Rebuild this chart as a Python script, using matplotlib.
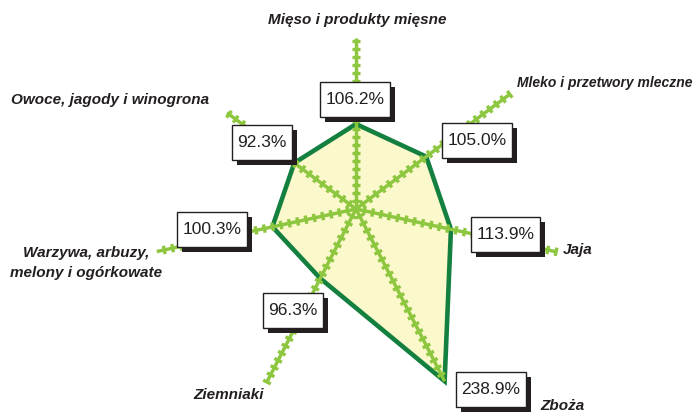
import numpy as np
import matplotlib
matplotlib.use('Agg')
from matplotlib import pyplot as plt
from matplotlib.patches import Polygon, Rectangle
from matplotlib.collections import LineCollection

# data (clockwise from the top)
categories = ['Mięso i produkty mięsne', 'Mleko i przetwory mleczne', 'Jaja', 'Zboża',
              'Ziemniaki', 'Warzywa, arbuzy,\nmelony i ogórkowate', 'Owoce, jagody i winogrona']
values = [106.2, 105.0, 113.9, 238.9, 96.3, 100.3, 92.3]
value_labels = ['106.2%', '105.0%', '113.9%', '238.9%', '96.3%', '100.3%', '92.3%']

# layout (pixels)
W, H = 695, 412
cx, cy = 356, 209
sx, sy = 0.855, 0.80          # px per unit along x / y
spoke_len = [214, 231, 240, 239, 240, 239, 193]
box_offset = [(-1, -25), (51, -16), (55, 5), (46, 8), (-27, 32), (-60, 3), (-32, -20)]
cat_pos = [(357, 20, 'center', 11), (605, 83, 'center', 10), (563, 250, 'left', 11),
           (540, 406, 'left', 11), (229, 395, 'center', 11), (86, 263, 'center', 11),
           (110, 100, 'center', 11)]

fill_col = '#FBF8CB'
line_col = '#14803F'
spoke_col = '#8DC63F'
text_col = '#231F20'

n = len(values)
theta = np.arange(n) * 2 * np.pi / n


def to_px(v, th):
    return cx + sx * v * np.sin(th), cy - sy * v * np.cos(th)


fig = plt.figure(figsize=(W / 100, H / 100), dpi=100)
ax = fig.add_axes([0, 0, 1, 1])
ax.set_xlim(0, W)
ax.set_ylim(H, 0)
ax.axis('off')

pts = [to_px(v, t) for v, t in zip(values, theta)]
ax.add_patch(Polygon(pts, closed=True, facecolor=fill_col, edgecolor='none', zorder=1))
ax.add_patch(Polygon(pts, closed=True, fill=False, edgecolor=line_col, linewidth=3.3,
                     joinstyle='miter', zorder=2))

# spokes with cross ticks every 10 units
ticks = []
for th, L in zip(theta, spoke_len):
    x1, y1 = to_px(L, th)
    ax.plot([cx, x1], [cy, y1], color=spoke_col, linewidth=2.5, solid_capstyle='butt', zorder=3)
    d = np.array([sx * np.sin(th), -sy * np.cos(th)])
    d = d / np.linalg.norm(d)
    nrm = np.array([-d[1], d[0]])
    for v in np.arange(10, L + 1, 10):
        p = np.array(to_px(v, th))
        ticks.append([p - 4.2 * nrm, p + 4.2 * nrm])
ax.add_collection(LineCollection(ticks, colors=spoke_col, linewidths=2.4, zorder=3))

# value boxes with shadow
texts = []
for (px, py), (ox, oy), lab in zip(pts, box_offset, value_labels):
    t = ax.text(px + ox, py + oy, lab, ha='center', va='center', fontsize=12.5,
                family=['Liberation Sans Narrow', 'Liberation Sans', 'DejaVu Sans'],
                color=text_col, zorder=7)
    texts.append(t)

fig.canvas.draw()
rend = fig.canvas.get_renderer()
for t in texts:
    bb = t.get_window_extent(rend)
    bw = bb.width + 11
    bh = 35
    x0, y0 = t.get_position()
    ax.add_patch(Rectangle((x0 - bw / 2 + 5, y0 - bh / 2 + 5), bw, bh, facecolor='#231F20',
                           edgecolor='none', zorder=5))
    ax.add_patch(Rectangle((x0 - bw / 2, y0 - bh / 2), bw, bh, facecolor='white',
                           edgecolor='#231F20', linewidth=1.0, zorder=6))

# category labels
for cat, (x, y, ha, fs) in zip(categories, cat_pos):
    ax.text(x, y, cat, ha=ha, va='center', fontsize=fs, fontweight='bold', fontstyle='italic',
            family=['Liberation Sans', 'DejaVu Sans'], color=text_col, linespacing=1.6)

fig.savefig('out.png', dpi=100)
